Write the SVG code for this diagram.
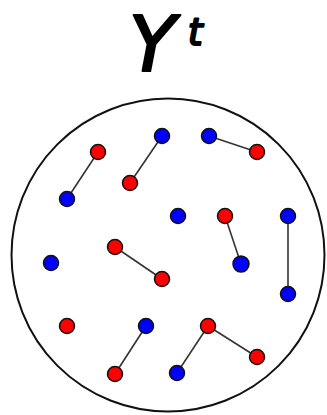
<svg xmlns="http://www.w3.org/2000/svg" width="327" height="415" viewBox="0 0 327 415">
<style>
.r{fill:#ff0000;stroke:#111;stroke-width:1.5}
.b{fill:#0000ff;stroke:#111;stroke-width:1.5}
.e{stroke:#333;stroke-width:1.6;fill:none}
.t{font-family:"DejaVu Sans",sans-serif;font-style:italic;fill:#000;stroke:#000;stroke-width:2.2;stroke-linejoin:round}
</style>
<rect width="327" height="415" fill="#fff"/>
<text class="t" x="129" y="71" font-size="76">Y</text>
<text class="t" x="188" y="45" font-size="37">t</text>
<circle id="set" cx="168" cy="255" r="156.5" fill="none" stroke="#111" stroke-width="2"/>
<g id="connectors">
<line class="e" x1="98" y1="152" x2="67" y2="199"/>
<line class="e" x1="162" y1="136" x2="130" y2="183"/>
<line class="e" x1="209" y1="136" x2="257" y2="152"/>
<line class="e" x1="225" y1="216" x2="241" y2="264"/>
<line class="e" x1="288" y1="216" x2="288" y2="294" stroke="#000" stroke-width="2"/>
<line class="e" x1="115" y1="247" x2="162" y2="279"/>
<line class="e" x1="146" y1="326" x2="115" y2="374"/>
<line class="e" x1="208" y1="326" x2="177" y2="373"/>
<line class="e" x1="208" y1="326" x2="257" y2="357"/>
</g>
<g id="n1"><circle class="r" cx="98" cy="152" r="7.5"/></g>
<g id="n2"><circle class="b" cx="67" cy="199" r="7.5"/></g>
<g id="n3"><circle class="b" cx="162" cy="136" r="7.5"/></g>
<g id="n4"><circle class="r" cx="130" cy="183" r="7.5"/></g>
<g id="n5"><circle class="b" cx="209" cy="136" r="7.5"/></g>
<g id="n6"><circle class="r" cx="257" cy="152" r="7.5"/></g>
<g id="n7"><circle class="b" cx="178" cy="216" r="7.5"/></g>
<g id="n8"><circle class="r" cx="225" cy="216" r="7.5"/></g>
<g id="n9"><circle class="b" cx="288" cy="216" r="7.5"/></g>
<g id="n10"><circle class="b" cx="241" cy="264" r="8"/></g>
<g id="n11"><circle class="b" cx="288" cy="294" r="7.5"/></g>
<g id="n12"><circle class="b" cx="51" cy="263" r="7.5"/></g>
<g id="n13"><circle class="r" cx="115" cy="247" r="7.5"/></g>
<g id="n14"><circle class="r" cx="162" cy="279" r="7.5"/></g>
<g id="n15"><circle class="r" cx="67" cy="326" r="7.5"/></g>
<g id="n16"><circle class="b" cx="146" cy="326" r="7.5"/></g>
<g id="n17"><circle class="r" cx="115" cy="374" r="7.5"/></g>
<g id="n18"><circle class="r" cx="208" cy="326" r="7.5"/></g>
<g id="n19"><circle class="r" cx="257" cy="357" r="7.5"/></g>
<g id="n20"><circle class="b" cx="177" cy="373" r="7.5"/></g>
</svg>
